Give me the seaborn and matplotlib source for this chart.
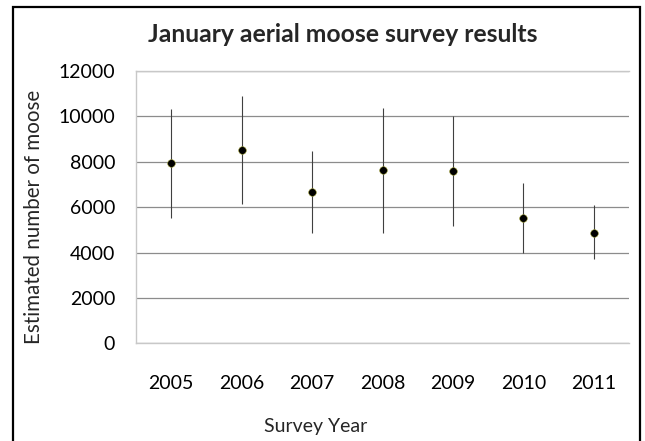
import matplotlib
matplotlib.use("Agg")
import matplotlib.pyplot as plt
import seaborn as sns
import pandas as pd
from matplotlib.patches import Rectangle

years = ["2005", "2006", "2007", "2008", "2009", "2010", "2011"]
estimate = [7920, 8500, 6650, 7620, 7590, 5520, 4880]
lower = [5540, 6130, 4850, 4880, 5160, 3990, 3700]
upper = [10330, 10880, 8470, 10380, 10010, 7060, 6070]
y_ticks = [0, 2000, 4000, 6000, 8000, 10000, 12000]

df = pd.DataFrame({"year": years, "estimate": estimate, "lower": lower, "upper": upper})

sns.set_style("white")
plt.rcParams["font.family"] = ["Lato", "DejaVu Sans"]

fig = plt.figure(figsize=(6.45, 4.41), dpi=100)
ax = fig.add_axes([0.2109, 0.2213, 0.9752 - 0.2109, 0.8397 - 0.2213])

# error bars first so the dots sit on top
ax.vlines(range(len(df)), df["lower"], df["upper"], color="#404040", lw=0.8, zorder=2)
sns.pointplot(data=df, x="year", y="estimate", linestyle="none", color="black",
              markers="o", markersize=5.5, markeredgecolor="#9a9a30",
              markeredgewidth=0.4, errorbar=None, ax=ax, zorder=3)

ax.set_xlim(-0.5, len(years) - 0.5)
ax.set_ylim(0, 12000)
ax.set_yticks(y_ticks)
ax.set_yticklabels([str(t) for t in y_ticks])
ax.grid(axis="y", color="#8c8c8c", lw=0.9)
ax.set_axisbelow(True)

for side in ["top", "left", "bottom"]:
    ax.spines[side].set_color("#c8c8c8")
    ax.spines[side].set_linewidth(1.0)
ax.spines["right"].set_visible(False)

ax.tick_params(axis="y", length=0, pad=15, labelsize=14, colors="black")
ax.tick_params(axis="x", length=0, pad=23, labelsize=14, colors="black")

ax.set_xlabel("Survey Year", fontsize=14)
ax.xaxis.set_label_coords((316 - 136) / (629 - 136), -0.275)
ax.set_ylabel("Estimated number of moose", fontsize=14.8)
ax.yaxis.set_label_coords(-0.187, 0.465)

fig.text(0.532, 1 - 35 / 441, "January aerial moose survey results",
         ha="center", va="center", fontsize=17.8, fontweight="bold")

# outer chart frame (bottom edge runs off the image)
fig.patches.append(Rectangle((12.5 / 645, -0.05), (640 - 12.5) / 645, 1.05 - 7.5 / 441,
                             transform=fig.transFigure, fill=False,
                             edgecolor="black", lw=1.6))

fig.savefig("out.png", dpi=100, facecolor="white")
